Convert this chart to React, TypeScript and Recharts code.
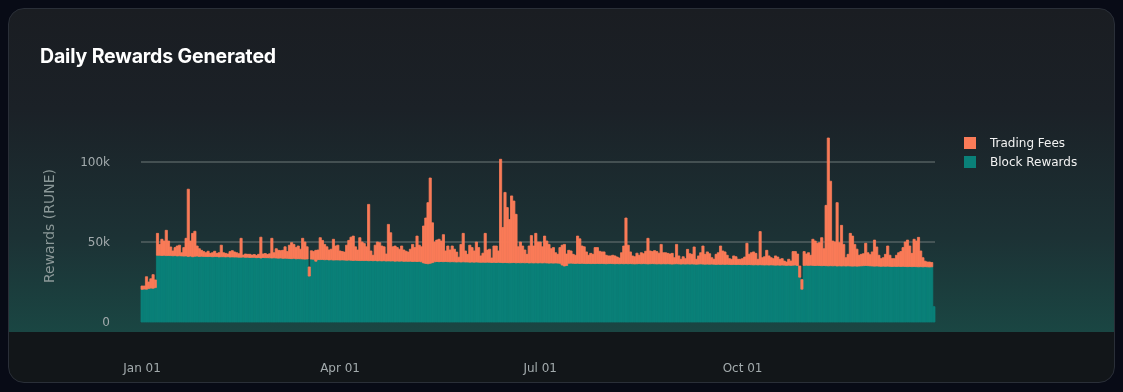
import { Bar, BarChart, CartesianGrid, XAxis, YAxis } from 'recharts';

// daily totals (block rewards + trading fees), in thousands of RUNE
const totalRewardsK = [
  22.5, 22.5, 28.3, 25.0, 27.0, 29.6, 26.3,
  55.4, 48.5, 51.7, 50.6, 57.3, 50.6, 46.9, 44.4, 46.5, 47.5,
  48.0, 43.3, 46.5, 52.3, 83.0, 50.6, 55.4, 56.7, 47.5, 45.8,
  44.8, 44.0, 43.3, 44.2, 42.9, 43.3, 44.2, 42.9, 43.3, 48.0,
  43.3, 42.9, 42.5, 44.0, 44.6, 43.8, 43.3, 42.7,
  52.3, 41.8, 42.5, 42.3, 42.3, 41.8, 42.2, 41.6, 42.3, 53.0,
  42.5, 42.8, 42.2, 42.6, 52.3, 43.3, 45.8, 44.8, 44.6, 44.8,
  47.0, 44.0, 48.0, 49.6, 48.5, 46.5, 47.5, 45.5, 52.3, 50.0, 47.0,
  34.4, 44.5, 44.0, 44.8, 45.0, 52.7, 51.0, 48.5, 47.0, 45.0, 45.5, 51.7, 47.5,
  48.0, 44.4, 44.0, 43.7, 48.0, 51.0, 53.0, 53.7, 47.0, 45.0, 52.7,
  50.0, 49.0, 47.0, 73.5, 44.4, 41.7, 48.0, 50.0, 49.6, 47.5, 47.0, 42.5,
  61.0, 55.8, 47.0, 47.5, 46.5, 45.5, 47.5, 45.0, 44.2, 43.7, 45.5, 48.5,
  46.5, 53.7, 48.0, 47.0, 60.0, 65.0, 74.6, 90.0, 62.0, 50.0, 51.2, 51.7,
  50.6, 54.6, 44.4, 47.5, 45.0, 47.5, 45.5, 43.7, 40.5, 48.5, 55.4, 44.4,
  42.3, 48.0, 46.5, 44.4, 50.0, 46.5, 41.3, 43.0, 55.4, 45.0, 45.5, 40.0,
  47.5, 47.5, 44.4, 101.7, 59.0, 81.0, 71.5, 64.0, 78.8, 75.6, 67.3, 47.0,
  50.0, 47.5, 45.0, 42.3, 47.5, 54.0, 47.5, 55.4, 50.0,
  50.0, 47.0, 53.7, 50.6, 48.5, 45.8, 46.5, 43.3, 42.3, 46.5, 48.0, 48.5,
  42.5, 44.8, 44.4, 42.3, 41.7, 53.7, 52.0, 47.5, 47.0, 43.8, 41.7, 42.9,
  42.3, 46.5, 46.5, 44.2, 43.8, 43.8, 41.7, 41.3, 41.3, 41.7, 41.3, 40.6,
  40.0, 43.3, 47.5, 65.0, 48.0, 43.8, 41.3, 40.8, 43.0, 41.7,
  43.3, 42.7, 44.2, 52.3, 44.4, 44.0, 44.6, 44.0, 43.0, 48.5, 43.3, 43.3,
  42.9, 42.5, 42.9, 40.2, 48.5, 41.3, 39.2, 40.8, 39.6, 45.4, 42.7, 42.3,
  46.9, 39.2, 41.3, 43.3, 47.5, 42.3, 43.8, 42.7, 40.2, 39.2, 42.3, 43.3,
  47.5, 44.4, 43.8, 41.7, 39.6, 39.2, 41.3, 40.8, 39.2, 39.2, 39.6, 40.6,
  49.2, 42.3, 43.3, 43.8, 42.9, 39.2, 56.5, 40.2, 40.8, 44.8, 41.3, 40.2,
  39.6, 41.3, 40.6, 39.2, 39.6, 38.1, 37.5, 39.2, 38.1, 44.0, 44.0, 42.5,
  35.0, 26.5, 44.0, 42.5, 43.3, 41.7, 51.7, 50.6, 49.2, 49.6, 52.7, 45.8,
  72.9, 115.0, 88.0, 50.6, 50.0, 74.6, 49.6, 60.4, 48.5, 40.2, 42.3, 55.4,
  53.7, 48.5, 45.5, 41.7, 42.3, 42.7, 49.2, 43.3, 42.1, 43.8, 51.2, 46.9,
  41.7, 39.6, 40.2, 42.3, 47.5, 41.7, 39.6, 39.6, 41.7, 43.3, 44.0, 46.5,
  50.0, 51.2, 47.5, 42.9, 51.7, 50.6, 52.9, 44.4, 40.2, 38.0, 37.5, 37.5, 37.2,
  9.6,
];

// block rewards part, in thousands of RUNE
const blockRewardsK = [
  20.4, 20.6, 20.5, 21.0, 21.2, 21.1, 21.5,
  41.7, 41.7, 41.6, 41.7, 41.5, 41.6, 41.5, 41.4, 41.5, 41.3,
  41.4, 41.3, 41.2, 41.3, 41.0, 41.2, 40.8, 41.1, 41.2, 41.0,
  41.1, 41.0, 41.0, 40.9, 41.0, 40.8, 40.9, 40.9, 40.7, 40.8,
  40.8, 40.7, 40.8, 40.6, 40.7, 40.6, 40.6, 40.5,
  40.5, 40.6, 40.4, 40.5, 40.3, 40.4, 40.4, 40.2, 40.3, 40.0,
  40.3, 40.2, 40.2, 40.1, 40.0, 40.1, 40.0, 39.9, 40.0, 39.8,
  39.9, 39.8, 39.7, 39.6, 39.8, 39.5, 39.6, 39.5, 39.4, 39.3, 39.4,
  28.7, 39.3, 39.2, 38.0, 39.1, 39.0, 39.1, 38.9, 39.0, 38.8, 38.9, 38.7, 38.8,
  38.8, 38.7, 38.8, 38.7, 38.6, 38.7, 38.6, 38.5, 38.6, 38.5, 38.4,
  38.5, 38.4, 38.5, 38.3, 38.4, 38.3, 38.4, 38.2, 38.3, 38.2, 38.3, 38.1,
  38.2, 38.1, 38.2, 38.0, 38.1, 38.0, 38.1, 37.9, 38.0, 37.9, 38.0, 37.8,
  37.9, 37.8, 37.9, 37.6, 36.9, 36.6, 36.4, 36.7, 37.1, 37.6, 37.8, 37.7,
  37.8, 37.7, 37.8, 37.7, 37.6, 37.7, 37.6, 37.5, 37.6, 37.5, 37.6, 37.5,
  37.5, 37.4, 37.5, 37.4, 37.5, 37.4, 37.3, 37.4, 37.3, 37.4, 37.3, 37.2,
  37.3, 37.2, 37.3, 37.2, 37.1, 37.2, 37.1, 37.0, 37.1, 37.2, 37.0, 37.1,
  37.0, 37.1, 37.0, 37.1, 36.9, 37.0, 36.9, 37.0, 36.9,
  37.0, 36.9, 37.0, 36.9, 36.8, 36.9, 36.8, 36.9, 36.8, 36.7, 35.6, 35.0,
  35.3, 36.7, 36.8, 36.7, 36.6, 36.7, 36.6, 36.7, 36.6, 36.5, 36.6, 36.5,
  36.6, 36.5, 36.6, 36.5, 36.6, 36.5, 36.4, 36.5, 36.6, 36.5, 36.4, 36.5,
  36.4, 36.5, 36.4, 36.5, 36.4, 36.5, 36.4, 36.3, 36.4, 36.5,
  36.4, 36.5, 36.4, 36.3, 36.4, 36.5, 36.4, 36.3, 36.4, 36.3, 36.4, 36.3,
  36.4, 36.3, 36.2, 36.3, 36.4, 36.3, 36.2, 36.3, 36.2, 36.3, 36.2, 36.3,
  36.2, 36.1, 36.2, 36.3, 36.2, 36.1, 36.2, 36.1, 36.2, 36.1, 36.0, 36.1,
  36.0, 36.1, 36.0, 36.1, 36.0, 35.9, 36.0, 35.9, 36.0, 35.9, 35.8, 35.9,
  35.8, 35.9, 35.8, 35.7, 35.8, 35.7, 35.8, 35.7, 35.6, 35.7, 35.6, 35.7,
  35.6, 35.5, 35.6, 35.5, 35.6, 35.5, 35.4, 35.5, 35.4, 35.5, 35.6, 35.3,
  28.0, 20.5, 35.4, 35.5, 35.4, 35.5, 35.4, 35.3, 35.4, 35.3, 35.2, 35.3,
  35.2, 35.1, 35.2, 35.1, 35.2, 35.0, 35.1, 35.0, 35.1, 35.0, 35.1, 35.0,
  34.9, 35.0, 34.9, 35.0, 35.1, 35.2, 35.3, 35.2, 35.1, 35.0, 34.9, 35.0,
  34.9, 34.8, 34.9, 34.8, 34.9, 34.8, 34.7, 34.8, 34.7, 34.8, 34.7, 34.8,
  34.7, 34.6, 34.7, 34.6, 34.7, 34.6, 34.5, 34.6, 34.5, 34.6, 34.5, 34.4, 34.5,
  9.6,
];

const monthNames = ['Jan', 'Feb', 'Mar', 'Apr', 'May', 'Jun', 'Jul', 'Aug', 'Sep', 'Oct', 'Nov', 'Dec'];
const monthDays = [31, 28, 31, 30, 31, 30, 31, 31, 30, 31, 30, 31];
const tickLabels = ['Jan 01', 'Apr 01', 'Jul 01', 'Oct 01'];
const yTicks = [0, 50000, 100000];
const gridValues = [50000, 100000];

const FEES_COLOR = '#fa7b58';
const BLOCK_COLOR = '#0a8078';

const dates: string[] = [];
monthNames.forEach((m, mi) => {
  for (let d = 1; d <= monthDays[mi]; d++) dates.push(`${m} ${String(d).padStart(2, '0')}`);
});

const data = totalRewardsK.map((total, i) => ({
  date: dates[i],
  block: Math.round(blockRewardsK[i] * 1000),
  fees: Math.round(Math.max(0, total - blockRewardsK[i]) * 1000),
}));

const fmtK = (v: number) => (v === 0 ? '0' : `${v / 1000}k`);

const legendItems = [
  { name: 'Trading Fees', color: FEES_COLOR },
  { name: 'Block Rewards', color: BLOCK_COLOR },
];

export default function App() {
  return (
    <>
      <div style={{ position: 'fixed', inset: 0, background: '#080b16' }} />
      <div
        style={{
          position: 'relative',
          width: 1107,
          height: 375,
          borderRadius: 16,
          border: '1px solid #2a2f38',
          boxSizing: 'border-box',
          overflow: 'hidden',
          background:
            'linear-gradient(180deg, #1a1d22 0px, #1b2127 100px, #1c3235 230px, #1a4643 323px, #121619 323px, #121619 375px)',
        }}
      >
        <div
          style={{
            position: 'absolute',
            left: 31,
            top: 37,
            fontFamily: 'Inter',
            fontWeight: 700,
            fontSize: 19.5,
            lineHeight: '20px',
            color: '#ffffff',
            letterSpacing: -0.15,
          }}
        >
          Daily Rewards Generated
        </div>
        <div
          style={{
            position: 'absolute',
            left: 40,
            top: 217,
            transform: 'translate(-50%, -50%) rotate(-90deg)',
            fontFamily: 'DejaVu Sans',
            fontSize: 14,
            color: '#8b9898',
            whiteSpace: 'nowrap',
          }}
        >
          Rewards (RUNE)
        </div>
        <div
          style={{
            position: 'absolute',
            left: 955,
            top: 124,
            fontFamily: 'DejaVu Sans',
            fontSize: 12,
            color: '#f2f2f2',
          }}
        >
          {legendItems.map((it) => (
            <div key={it.name} style={{ display: 'flex', alignItems: 'center', height: 19 }}>
              <span style={{ width: 12, height: 12, background: it.color, marginRight: 14 }} />
              {it.name}
            </div>
          ))}
        </div>
        <div style={{ position: 'absolute', left: -1, top: -1 }}>
          <BarChart
            width={1107}
            height={375}
            data={data}
            barCategoryGap={0}
            barGap={0}
            margin={{ top: 122, right: 180, left: 0, bottom: 16 }}
          >
            <CartesianGrid vertical={false} horizontalValues={gridValues} stroke="#6e7878" strokeWidth={1} />
            <XAxis
              dataKey="date"
              ticks={tickLabels}
              interval={0}
              tickLine={false}
              axisLine={false}
              height={45}
              tickMargin={35}
              tick={{ fill: '#a3abad', fontSize: 12, fontFamily: 'DejaVu Sans' }}
            />
            <YAxis
              domain={[0, 120000]}
              ticks={yTicks}
              width={133}
              tickLine={false}
              axisLine={false}
              tickMargin={25}
              tickFormatter={fmtK}
              tick={{ fill: '#a3abad', fontSize: 12, fontFamily: 'DejaVu Sans' }}
            />
            <Bar
              dataKey="block"
              name="Block Rewards"
              stackId="r"
              fill={BLOCK_COLOR}
              stroke={BLOCK_COLOR}
              strokeWidth={0.8}
              barSize={2.19}
              isAnimationActive={false}
            />
            <Bar
              dataKey="fees"
              name="Trading Fees"
              stackId="r"
              fill={FEES_COLOR}
              stroke={FEES_COLOR}
              strokeWidth={0.8}
              barSize={2.19}
              isAnimationActive={false}
            />
          </BarChart>
        </div>
      </div>
    </>
  );
}
